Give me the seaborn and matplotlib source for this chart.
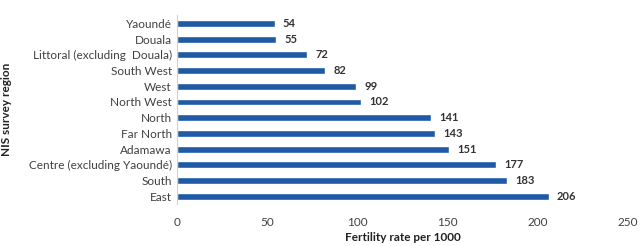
import pandas as pd
import matplotlib.pyplot as plt
import seaborn as sns

regions = ['Yaoundé', 'Douala', 'Littoral (excluding  Douala)', 'South West', 'West',
           'North West', 'North', 'Far North', 'Adamawa', 'Centre (excluding Yaoundé)',
           'South', 'East']
rates = [54, 55, 72, 82, 99, 102, 141, 143, 151, 177, 183, 206]
xticks = [0, 50, 100, 150, 200, 250]
title_prefix = 'Fertility rate '
title_rest = 'by region'

df = pd.DataFrame({'region': regions, 'rate': rates})

sns.set_style('white')
plt.rcParams['font.family'] = ['Lato', 'DejaVu Sans']

fig, ax = plt.subplots(figsize=(6.4, 2.46), dpi=100)
fig.subplots_adjust(left=0.277, right=0.981, top=0.937, bottom=0.17)

sns.barplot(data=df, x='rate', y='region', color='#1f5aa6', width=0.44,
            saturation=1, ax=ax)

ax.bar_label(ax.containers[0], padding=6, fontsize=8, color='#333333',
             fontweight='bold')

ax.set_xlim(0, 250)
ax.set_xticks(xticks)
ax.tick_params(axis='both', length=0, labelsize=8.5, labelcolor='#404040')
ax.tick_params(axis='x', pad=9)
ax.tick_params(axis='y', pad=4)
for s in ['top', 'right', 'bottom']:
    ax.spines[s].set_visible(False)
ax.spines['left'].set_color('#d0d0d0')
ax.spines['left'].set_linewidth(0.8)

ax.set_xlabel('Fertility rate per 1000', fontsize=8.5, color='#222222',
              fontweight='bold', labelpad=3)
ax.set_ylabel('NIS survey region', fontsize=8.5, color='#222222',
              fontweight='bold', labelpad=12)

# title sits above the crop in the original, only the descenders show
tkw = dict(fontsize=20, fontweight='bold', color='#222222')
r = fig.canvas.get_renderer()
tmp = fig.text(0, 0, title_prefix.replace(' ', '_'), **tkw)
w = tmp.get_window_extent(r).width
tmp.remove()
fig.text((150 - w) / 640, 1.03, title_prefix + title_rest, va='baseline',
         ha='left', **tkw)

fig.savefig('out.png', dpi=100)
